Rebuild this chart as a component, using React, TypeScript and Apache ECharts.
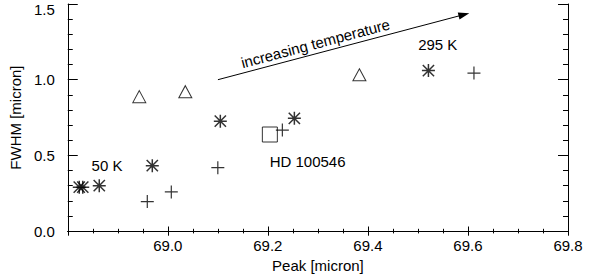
import React, { useEffect, useRef } from "react";
import * as echarts from "echarts";

// Data
const asteriskX = [68.823, 68.830, 68.863, 68.969, 69.105, 69.253, 69.521];
const asteriskY = [0.29, 0.29, 0.30, 0.432, 0.726, 0.745, 1.06];
const plusX = [68.959, 69.007, 69.100, 69.229, 69.612];
const plusY = [0.195, 0.259, 0.419, 0.667, 1.044];
const triangleX = [68.943, 69.035, 69.383];
const triangleY = [0.888, 0.921, 1.033];
const squareX = [69.204];
const squareY = [0.638];

const xTicks = { min: 68.8, max: 69.8, interval: 0.2 };
const yTicks = { min: 0, max: 1.5, interval: 0.5 };

// Annotations (data coordinates)
const labelTexts = ["50 K", "HD 100546", "295 K"];
const labelX = [68.8785, 69.2036, 69.5396];
const labelY = [0.434, 0.461, 1.23];
const labelAlign = ["center", "left", "center"];
const arrowText = "increasing temperature";
const arrowStart = [69.1002, 1.0];
const arrowEnd = [69.592, 1.43];
const arrowTextPos = [69.295, 1.24];

const FONT = "'Liberation Sans', Arial, Helvetica, sans-serif";

const asteriskPath =
  "path://M0,-6L0,6M-6,0L6,0M-5.2,-5.2L5.2,5.2M-5.2,5.2L5.2,-5.2";
const plusPath = "path://M0,-6L0,6M-6,0L6,0";

const zip = (xs: number[], ys: number[]) => xs.map((x, i) => [x, ys[i]]);

const strokeOnly = {
  color: "rgba(0,0,0,0)",
  borderColor: "#000",
  borderWidth: 1,
};

export default function App() {
  const ref = useRef<HTMLDivElement>(null);

  useEffect(() => {
    if (!ref.current) return;
    const chart = echarts.init(ref.current, null, { renderer: "svg" });

    const xBase = {
      type: "value" as const,
      min: xTicks.min,
      max: xTicks.max,
      interval: xTicks.interval,
      splitLine: { show: false },
      axisLine: { show: true, lineStyle: { color: "#000", width: 1 } },
      axisTick: { show: true, inside: true, length: 4.6, lineStyle: { color: "#000" } },
      minorTick: { show: true, splitNumber: 4, length: 2.3, lineStyle: { color: "#000" } },
    };
    const yBase = {
      type: "value" as const,
      min: yTicks.min,
      max: yTicks.max,
      interval: yTicks.interval,
      splitLine: { show: false },
      axisLine: { show: true, lineStyle: { color: "#000", width: 1 } },
      axisTick: { show: true, inside: true, length: 10, lineStyle: { color: "#000" } },
      minorTick: { show: true, splitNumber: 5, length: 5, lineStyle: { color: "#000" } },
    };

    chart.setOption({
      animation: false,
      backgroundColor: "#fff",
      textStyle: { fontFamily: FONT },
      grid: { left: 65, right: 30, top: 4, bottom: 46, containLabel: false },
      xAxis: [
        {
          ...xBase,
          position: "bottom",
          name: "Peak [micron]",
          nameLocation: "middle",
          nameGap: 24,
          nameTextStyle: { fontSize: 15, color: "#000", fontFamily: FONT },
          axisLabel: {
            show: true,
            showMinLabel: false,
            fontSize: 15,
            color: "#000",
            fontFamily: FONT,
            margin: 7,
            formatter: (v: number) => v.toFixed(1),
          },
        },
        { ...xBase, position: "top", axisLabel: { show: false } },
      ],
      yAxis: [
        {
          ...yBase,
          position: "left",
          name: "FWHM [micron]",
          nameLocation: "middle",
          nameGap: 33,
          nameTextStyle: { fontSize: 15, color: "#000", fontFamily: FONT },
          axisLabel: {
            show: true,
            fontSize: 15,
            color: "#000",
            fontFamily: FONT,
            margin: 13,
            verticalAlignMaxLabel: "top",
            formatter: (v: number) =>
              v === yTicks.max ? `{t|${v.toFixed(1)}}` : v.toFixed(1),
            rich: { t: { lineHeight: 10, fontSize: 15, color: "#000", fontFamily: FONT } },
          },
        },
        { ...yBase, position: "right", axisLabel: { show: false } },
      ],
      series: [
        {
          name: "asterisk",
          type: "scatter",
          xAxisIndex: 0,
          yAxisIndex: 0,
          symbol: asteriskPath,
          symbolSize: 13,
          itemStyle: { ...strokeOnly, borderWidth: 1.5 },
          data: zip(asteriskX, asteriskY),
          silent: true,
          markLine: {
            silent: true,
            symbol: ["none", "triangle"],
            symbolSize: [7, 11],
            lineStyle: { color: "#000", width: 1, type: "solid" },
            itemStyle: { color: "#000" },
            label: { show: false },
            data: [[{ coord: arrowStart }, { coord: arrowEnd }]],
          },
        },
        {
          name: "plus",
          type: "scatter",
          symbol: plusPath,
          symbolSize: 13,
          itemStyle: { ...strokeOnly, borderWidth: 1.2 },
          data: zip(plusX, plusY),
          silent: true,
        },
        {
          name: "triangle",
          type: "scatter",
          symbol: "triangle",
          symbolSize: [13, 12],
          itemStyle: strokeOnly,
          data: zip(triangleX, triangleY),
          silent: true,
        },
        {
          name: "square",
          type: "scatter",
          symbol: "rect",
          symbolSize: 15,
          itemStyle: strokeOnly,
          data: zip(squareX, squareY),
          silent: true,
        },
      ],
    });

    const toPx = (p: number[]) =>
      chart.convertToPixel({ xAxisIndex: 0, yAxisIndex: 0 }, p) as number[];
    const a0 = toPx(arrowStart);
    const a1 = toPx(arrowEnd);
    const angle = Math.atan2(a0[1] - a1[1], a1[0] - a0[0]);
    const tp = toPx(arrowTextPos);

    const graphics: any[] = labelTexts.map((t, i) => {
      const p = toPx([labelX[i], labelY[i]]);
      return {
        type: "text",
        x: p[0],
        y: p[1],
        silent: true,
        style: {
          text: t,
          fill: "#000",
          font: `15px ${FONT}`,
          align: labelAlign[i],
          verticalAlign: "middle",
        },
      };
    });
    graphics.push({
      type: "text",
      x: tp[0],
      y: tp[1],
      rotation: angle,
      silent: true,
      style: {
        text: arrowText,
        fill: "#000",
        font: `15px ${FONT}`,
        align: "center",
        verticalAlign: "middle",
      },
    });
    chart.setOption({ graphic: graphics });

    return () => chart.dispose();
  }, []);

  return (
    <div
      ref={ref}
      style={{ position: "absolute", left: 0, top: 0, width: 598, height: 278 }}
    />
  );
}
